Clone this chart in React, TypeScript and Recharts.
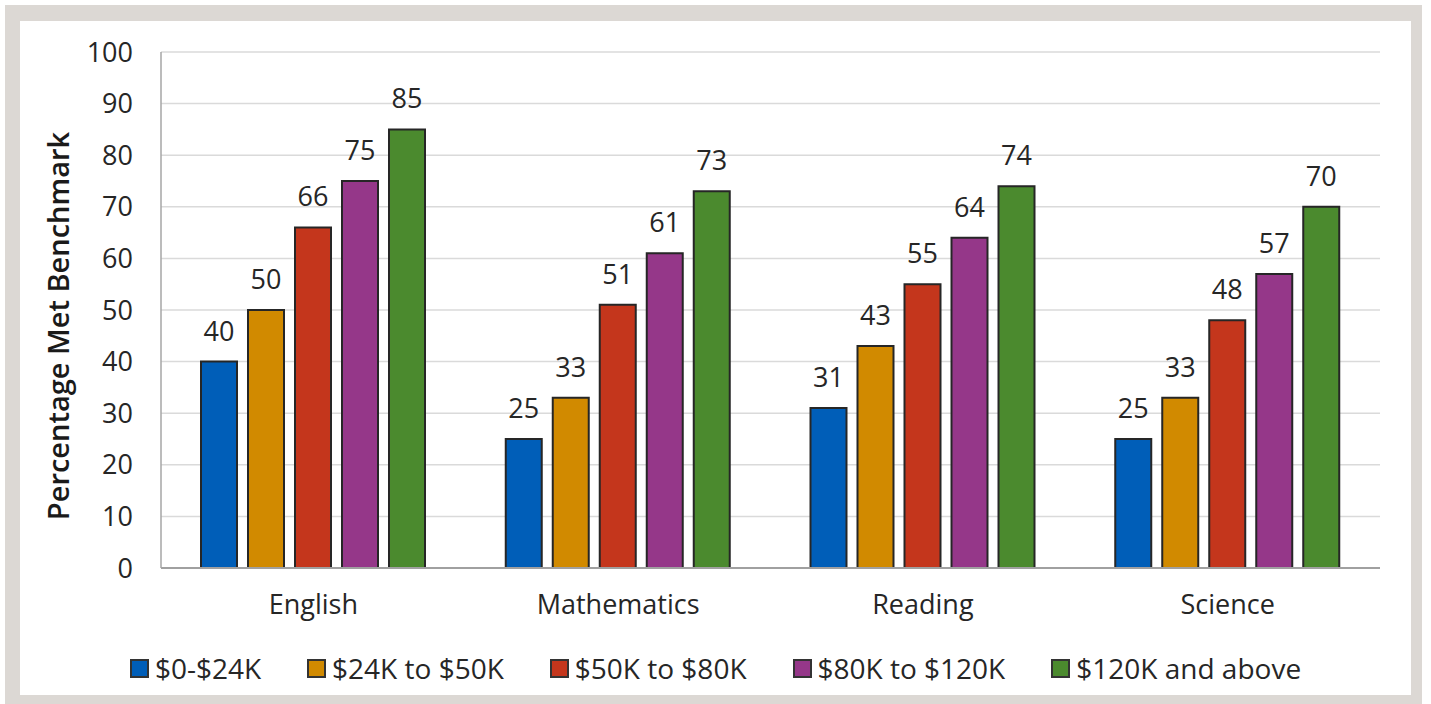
import { BarChart, Bar, XAxis, YAxis, CartesianGrid, LabelList } from 'recharts';

const subjects = ['English', 'Mathematics', 'Reading', 'Science'];
const income0to24 = [40, 25, 31, 25];
const income24to50 = [50, 33, 43, 33];
const income50to80 = [66, 51, 55, 48];
const income80to120 = [75, 61, 64, 57];
const income120up = [85, 73, 74, 70];
const yTicks = [0, 10, 20, 30, 40, 50, 60, 70, 80, 90, 100];

const series = [
  { key: 'a', name: '$0-$24K', values: income0to24, color: '#005EB8' },
  { key: 'b', name: '$24K to $50K', values: income24to50, color: '#D18A00' },
  { key: 'c', name: '$50K to $80K', values: income50to80, color: '#C4361C' },
  { key: 'd', name: '$80K to $120K', values: income80to120, color: '#953789' },
  { key: 'e', name: '$120K and above', values: income120up, color: '#4B8A2E' },
];

const data = subjects.map((subject, i) => {
  const row: Record<string, string | number> = { subject };
  series.forEach((s) => { row[s.key] = s.values[i]; });
  return row;
});

const FONT = '"Open Sans", "Noto Sans", sans-serif';
const TEXT = '#262626';

const App = () => {
  return (
    <div style={{ position: 'absolute', left: 0, top: 0, width: 1431, height: 704, background: '#fff', fontFamily: FONT }}>
      {/* grey frame */}
      <div style={{ position: 'absolute', left: 5, top: 5, width: 1417, height: 699, background: '#dcd8d4' }} />
      <div style={{ position: 'absolute', left: 20, top: 21, width: 1391, height: 674, background: '#fff' }} />

      <div style={{ position: 'absolute', left: 0, top: 0 }}>
        <BarChart
          width={1431}
          height={704}
          data={data}
          margin={{ top: 52, right: 51, bottom: 0, left: 0 }}
          barCategoryGap={40}
          barGap={11}
        >
          <CartesianGrid vertical={false} stroke="#dadada" strokeWidth={1.5} />
          <XAxis
            dataKey="subject"
            height={136}
            tickLine={false}
            tickSize={0}
            tickMargin={27}
            axisLine={{ stroke: '#a0a0a0', strokeWidth: 2 }}
            tick={{ fill: TEXT, fontSize: 27, fontFamily: FONT }}
          />
          <YAxis
            width={161}
            domain={[0, 100]}
            ticks={yTicks}
            interval={0}
            tickLine={false}
            tickSize={0}
            tickMargin={28}
            axisLine={{ stroke: '#a6a6a6', strokeWidth: 1.5 }}
            tick={{ fill: TEXT, fontSize: 27, fontFamily: FONT }}
          />
          {series.map((s) => (
            <Bar
              key={s.key}
              dataKey={s.key}
              name={s.name}
              fill={s.color}
              stroke="#262626"
              strokeWidth={2}
              isAnimationActive={false}
            >
              <LabelList dataKey={s.key} position="top" offset={21} fill={TEXT} fontSize={27} fontFamily={FONT} />
            </Bar>
          ))}
          <text
            x={57}
            y={326}
            transform="rotate(-90 57 326)"
            textAnchor="middle"
            dominantBaseline="central"
            fill="#1a1a1a"
            fontSize={29}
            fontWeight={600}
            fontFamily={FONT}
          >
            Percentage Met Benchmark
          </text>
        </BarChart>
      </div>

      {/* legend */}
      <div style={{ position: 'absolute', left: 0, top: 648, width: 1431, display: 'flex', justifyContent: 'center', alignItems: 'center', gap: 46 }}>
        {series.map((s) => (
          <div key={s.key} style={{ display: 'flex', alignItems: 'center' }}>
            <div style={{ width: 15, height: 15, background: s.color, border: '2px solid #333', marginRight: 6 }} />
            <span style={{ fontSize: 28, color: TEXT, lineHeight: '40px' }}>{s.name}</span>
          </div>
        ))}
      </div>
    </div>
  );
};

export default App;
